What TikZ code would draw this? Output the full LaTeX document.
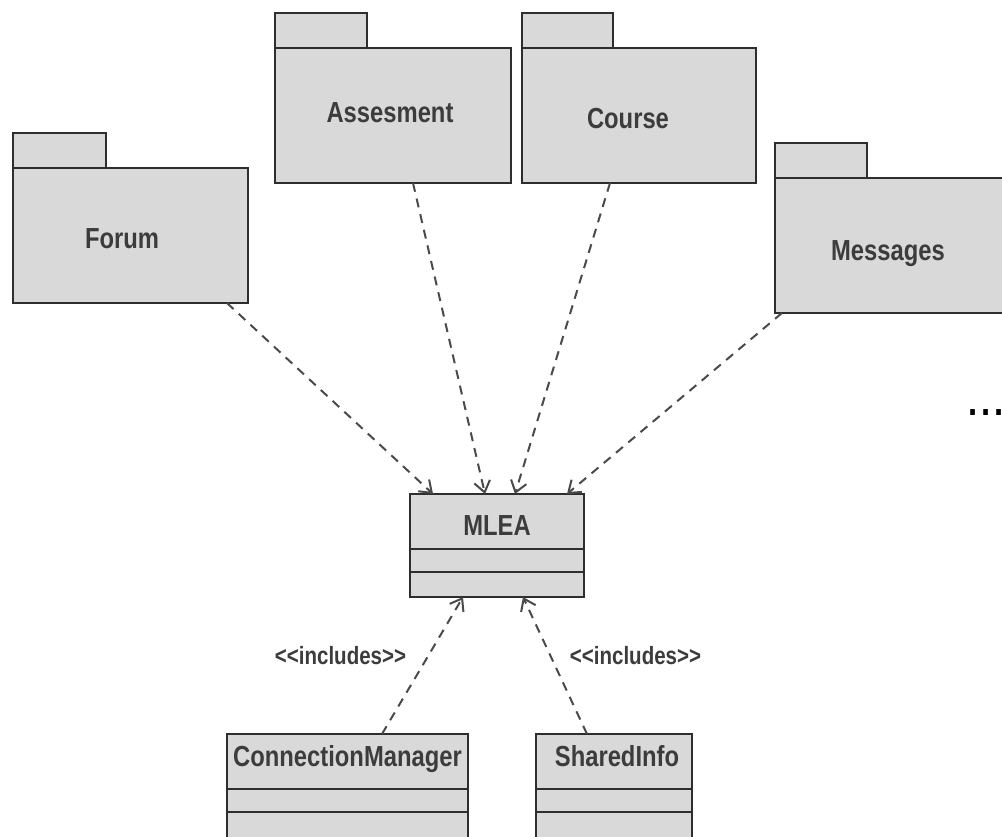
\documentclass[tikz,border=0pt]{standalone}
\usepackage{fontspec}
\usetikzlibrary{arrows.meta,calc}
\newfontfamily\lab{Liberation Sans}[FakeStretch=0.82]
\definecolor{boxfill}{HTML}{D9D9D9}
\definecolor{linec}{HTML}{2E2E2E}
\definecolor{txtc}{HTML}{3C3C3C}
\definecolor{dashc}{HTML}{4A4A4A}
\tikzset{
  boxbase/.style={draw=linec, fill=boxfill, line width=2pt, inner sep=0pt, outer sep=0pt, anchor=north west},
  pkgbody/.style={boxbase, minimum height=135pt},
  pkgtab/.style={draw=linec, fill=boxfill, line width=2pt, inner sep=0pt, outer sep=0pt, anchor=south west, minimum height=35pt},
  classbox/.style={boxbase, minimum height=103pt},
  lbl/.style={font={\lab\bfseries\fontsize{29}{31}\selectfont}, text=txtc, inner sep=0pt, text height=21pt, text depth=0pt},
  stereo/.style={font={\lab\bfseries\fontsize{25}{27}\selectfont}, text=txtc, inner sep=0pt, text height=18pt, text depth=0pt},
  dep/.style={draw=dashc, line width=2pt, dash pattern=on 9pt off 7pt, -{Straight Barb[length=11pt,width=16pt,line width=2pt]}},
  sep/.style={draw=linec, line width=2pt}
}
\begin{document}
\begin{tikzpicture}[x=1pt,y=-1pt]
\useasboundingbox[fill=white] (0,0) rectangle (1002,836);
\clip (0,0) rectangle (1002,836);

% packages
\node[pkgbody, minimum width=235pt] (forum) at (13,168) {};
\node[pkgtab, minimum width=93pt] (forumtab) at (forum.north west) {};
\node[lbl] (forumtxt) at (122,238) {Forum};

\node[pkgbody, minimum width=236pt] (assess) at (275,48) {};
\node[pkgtab, minimum width=92pt] (assesstab) at (assess.north west) {};
\node[lbl] (assesstxt) at (390,112) {Assesment};

\node[pkgbody, minimum width=234pt] (course) at (522,48) {};
\node[pkgtab, minimum width=91pt] (coursetab) at (course.north west) {};
\node[lbl] (coursetxt) at (628,118) {Course};

\node[pkgbody, minimum width=240pt] (msg) at (775,178) {};
\node[pkgtab, minimum width=92pt] (msgtab) at (msg.north west) {};
\node[lbl] (msgtxt) at (888,250) {Messages};

\node[lbl, font={\lab\bfseries\fontsize{40}{40}\selectfont}, text=black, text height=6pt] (dots) at (986,412) {.\kern4pt.\kern4pt.};

% classes
\node[classbox, minimum width=174pt] (mlea) at (410,494) {};
\draw[sep] ($(mlea.north west)+(0,55)$) -- ($(mlea.north east)+(0,55)$);
\draw[sep] ($(mlea.north west)+(0,78)$) -- ($(mlea.north east)+(0,78)$);
\node[lbl] (mleatxt) at (497,525) {MLEA};

\node[classbox, minimum width=241pt, minimum height=106pt] (cm) at (227,734) {};
\draw[sep] ($(cm.north west)+(0,55)$) -- ($(cm.north east)+(0,55)$);
\draw[sep] ($(cm.north west)+(0,78)$) -- ($(cm.north east)+(0,78)$);
\node[lbl] (cmtxt) at (347.5,756) {ConnectionManager};

\node[classbox, minimum width=156pt, minimum height=106pt] (si) at (536,734) {};
\draw[sep] ($(si.north west)+(0,55)$) -- ($(si.north east)+(0,55)$);
\draw[sep] ($(si.north west)+(0,78)$) -- ($(si.north east)+(0,78)$);
\node[lbl] (sitxt) at (617,756) {SharedInfo};

% dependencies
\draw[dep] ($(forum.south east)+(-21,0)$) -- ($(mlea.north west)+(23,0)$);
\draw[dep] ($(assess.south west)+(138,0)$) -- ($(mlea.north west)+(75,0)$);
\draw[dep] ($(course.south west)+(88,0)$) -- ($(mlea.north west)+(105,0)$);
\draw[dep] ($(msg.south west)+(7,0)$) -- ($(mlea.north west)+(157,0)$);
\draw[dep] ($(cm.north west)+(155,0)$) -- ($(mlea.south west)+(53,0)$);
\draw[dep] ($(si.north west)+(51,0)$) -- ($(mlea.south west)+(113,0)$);

\node[stereo] (inc1) at (340.5,655) {<<includes>>};
\node[stereo] (inc2) at (635.5,655) {<<includes>>};
\end{tikzpicture}
\end{document}
